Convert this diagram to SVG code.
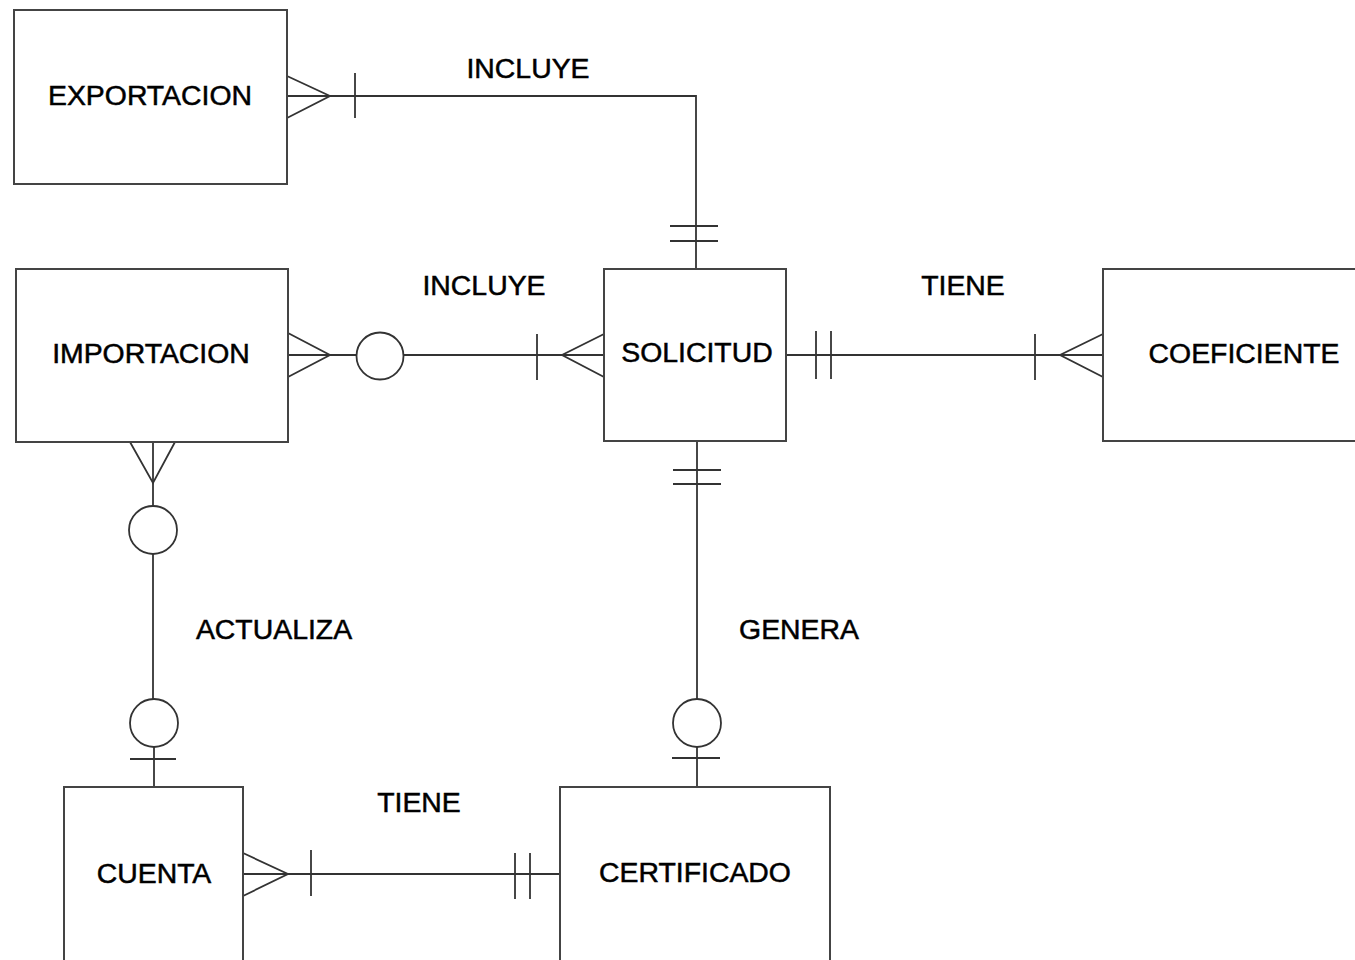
<svg xmlns="http://www.w3.org/2000/svg" width="1355" height="960" viewBox="0 0 1355 960">
<style>
.box{fill:#fff;stroke:#444;stroke-width:2}
.ln{fill:none;stroke:#333;stroke-width:1.8}
.t{font-family:"Liberation Sans",Arial,sans-serif;font-size:28.4px;fill:#000;stroke:#000;stroke-width:0.5;text-anchor:middle}
</style>
<rect width="1355" height="960" fill="#fff"/>
<g id="connectors" class="ln">
  <polyline points="287,96 696,96 696,269"/>
  <polyline points="287,76 330,96 287,118"/>
  <line x1="355" y1="73" x2="355" y2="118"/>
  <line x1="670" y1="226" x2="718" y2="226"/>
  <line x1="670" y1="241" x2="718" y2="241"/>
  <line x1="288" y1="355" x2="357" y2="355"/>
  <polyline points="288,333 330,355 288,377"/>
  <circle cx="380" cy="356" r="23.5"/>
  <line x1="404" y1="355" x2="604" y2="355"/>
  <line x1="537" y1="334" x2="537" y2="380"/>
  <polyline points="604,334 562,355 604,377"/>
  <line x1="786" y1="355" x2="1103" y2="355"/>
  <line x1="816" y1="331" x2="816" y2="379"/>
  <line x1="831" y1="331" x2="831" y2="379"/>
  <line x1="1035" y1="334" x2="1035" y2="380"/>
  <polyline points="1103,334 1060,355 1103,377"/>
  <line x1="153" y1="442" x2="153" y2="506"/>
  <polyline points="130,442 153,483 175,442"/>
  <circle cx="153" cy="530" r="24"/>
  <line x1="153" y1="554" x2="153" y2="699"/>
  <circle cx="154" cy="723" r="24"/>
  <line x1="154" y1="747" x2="154" y2="787"/>
  <line x1="130" y1="759" x2="176" y2="759"/>
  <line x1="697" y1="441" x2="697" y2="699"/>
  <line x1="673" y1="470" x2="721" y2="470"/>
  <line x1="673" y1="484" x2="721" y2="484"/>
  <circle cx="697" cy="723" r="24"/>
  <line x1="697" y1="747" x2="697" y2="787"/>
  <line x1="672" y1="758" x2="720" y2="758"/>
  <line x1="243" y1="874" x2="560" y2="874"/>
  <polyline points="243,853 288,874 243,896"/>
  <line x1="311" y1="850" x2="311" y2="896"/>
  <line x1="515" y1="853" x2="515" y2="899"/>
  <line x1="530" y1="853" x2="530" y2="899"/>
</g>
<g id="labels">
  <text class="t" x="528" y="78">INCLUYE</text>
  <text class="t" x="484" y="295">INCLUYE</text>
  <text class="t" x="963" y="295">TIENE</text>
  <text class="t" x="274" y="639">ACTUALIZA</text>
  <text class="t" x="799" y="639">GENERA</text>
  <text class="t" x="419" y="812">TIENE</text>
</g>
<g id="EXPORTACION"><rect class="box" x="14" y="10" width="273" height="174"/><text class="t" x="150" y="105">EXPORTACION</text></g>
<g id="IMPORTACION"><rect class="box" x="16" y="269" width="272" height="173"/><text class="t" x="151" y="363">IMPORTACION</text></g>
<g id="SOLICITUD"><rect class="box" x="604" y="269" width="182" height="172"/><text class="t" x="697" y="362">SOLICITUD</text></g>
<g id="COEFICIENTE"><rect class="box" x="1103" y="269" width="260" height="172"/><text class="t" x="1244" y="363">COEFICIENTE</text></g>
<g id="CUENTA"><rect class="box" x="64" y="787" width="179" height="190"/><text class="t" x="154" y="883">CUENTA</text></g>
<g id="CERTIFICADO"><rect class="box" x="560" y="787" width="270" height="190"/><text class="t" x="695" y="882">CERTIFICADO</text></g>
</svg>
